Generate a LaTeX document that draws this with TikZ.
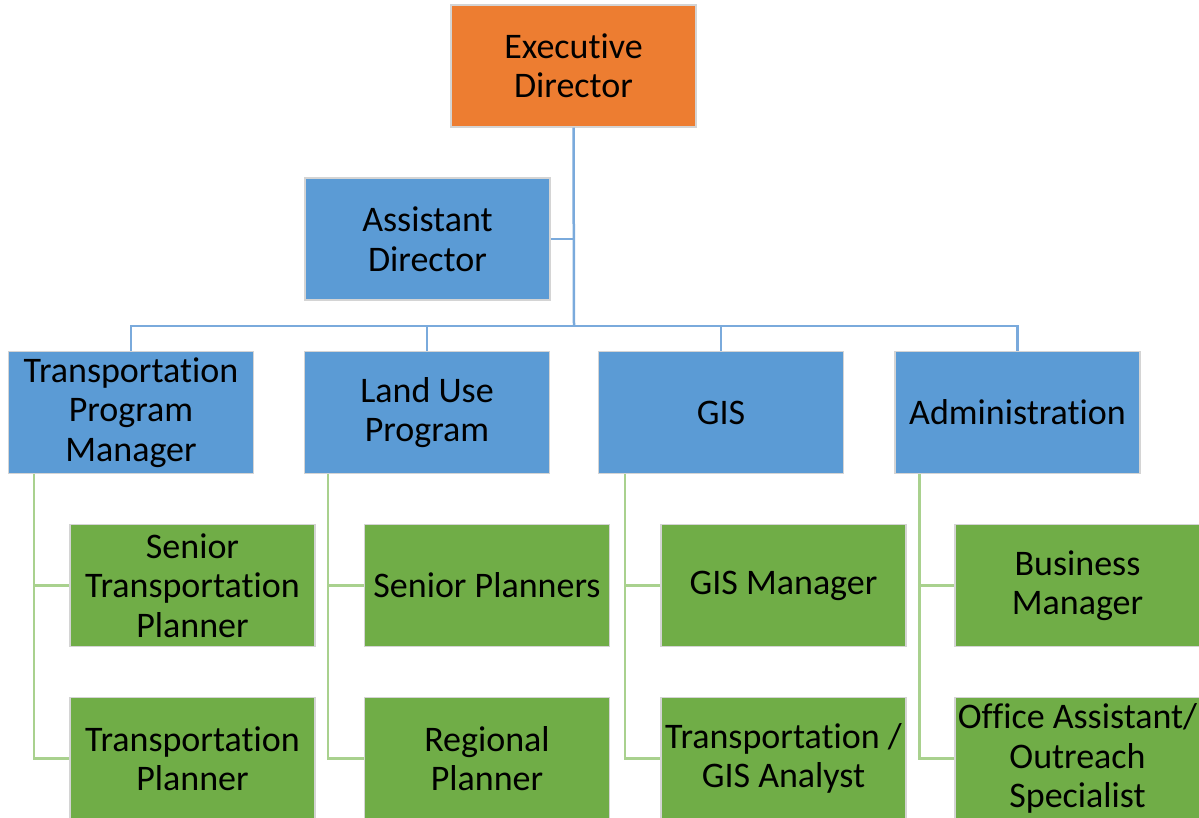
\documentclass[tikz,border=0pt]{standalone}
\usepackage{fontspec}
\setmainfont{Carlito}[Ligatures=NoCommon]
\definecolor{edorange}{HTML}{ED7D31}
\definecolor{midblue}{HTML}{5B9BD5}
\definecolor{leafgreen}{HTML}{70AD47}
\definecolor{boxedge}{HTML}{D4D4D4}
\definecolor{blueline}{HTML}{7AAADC}
\definecolor{greenline}{HTML}{A9D18E}
\tikzset{
  orgbox/.style={draw=boxedge, line width=1.5pt, minimum width=245pt, minimum height=122pt,
    inner sep=0pt, align=center, text=black, font=\fontsize{36}{39.5}\selectfont},
  topbox/.style={orgbox, fill=edorange},
  midbox/.style={orgbox, fill=midblue},
  leafbox/.style={orgbox, fill=leafgreen},
  bluelink/.style={draw=blueline, line width=2.5pt},
  greenlink/.style={draw=greenline, line width=2.5pt}
}
\begin{document}
\begin{tikzpicture}[x=1pt,y=-1pt]
\useasboundingbox (0,0) rectangle (1199,818);
\clip (0,0) rectangle (1199,818);
\fill[white] (0,0) rectangle (1199,818);

\coordinate (bar) at (574,326);

% boxes
\node[topbox]  (ed)  at (573.5,66)  {Executive\\Director};
\node[midbox]  (ad)  at (427.5,239) {Assistant\\Director};
\node[midbox]  (tpm) at (131,412.5) {Transportation\\Program\\Manager};
\node[midbox]  (lu)  at (427,412.5) {Land Use\\Program};
\node[midbox]  (gis) at (721,412.5) {GIS};
\node[midbox]  (adm) at (1017.5,412.5) {Administration};

\node[leafbox] (stp) at (192.5,585.5) {Senior\\Transportation\\Planner};
\node[leafbox] (tp)  at (192.5,758.5) {Transportation\\Planner};
\node[leafbox] (sp)  at (487,585.5) {Senior Planners};
\node[leafbox] (rp)  at (487,758.5) {Regional\\Planner};
\node[leafbox] (gm)  at (783.5,585.5) {GIS Manager};
\node[leafbox] (ga)  at (783.5,758.5) {Transportation /\\GIS Analyst};
\node[leafbox] (bm)  at (1077.5,585.5) {Business\\Manager};
\node[leafbox] (oa)  at (1077.5,758.5) {Office Assistant/\\Outreach\\Specialist};

% blue connectors
\draw[bluelink] (ed.south) -- (bar);
\draw[bluelink] (ad.east) -- (ad.east -| ed.south);
\draw[bluelink] (tpm.north) |- (bar) -| (adm.north);
\draw[bluelink] (lu.north) -- (lu.north |- bar);
\draw[bluelink] (gis.north) -- (gis.north |- bar);

% green connectors
\draw[greenlink] ([xshift=26pt]tpm.south west) |- (stp.west);
\draw[greenlink] ([xshift=26pt]tpm.south west) |- (tp.west);
\draw[greenlink] ([xshift=24pt]lu.south west) |- (sp.west);
\draw[greenlink] ([xshift=24pt]lu.south west) |- (rp.west);
\draw[greenlink] ([xshift=27pt]gis.south west) |- (gm.west);
\draw[greenlink] ([xshift=27pt]gis.south west) |- (ga.west);
\draw[greenlink] ([xshift=25pt]adm.south west) |- (bm.west);
\draw[greenlink] ([xshift=25pt]adm.south west) |- (oa.west);
\end{tikzpicture}
\end{document}
